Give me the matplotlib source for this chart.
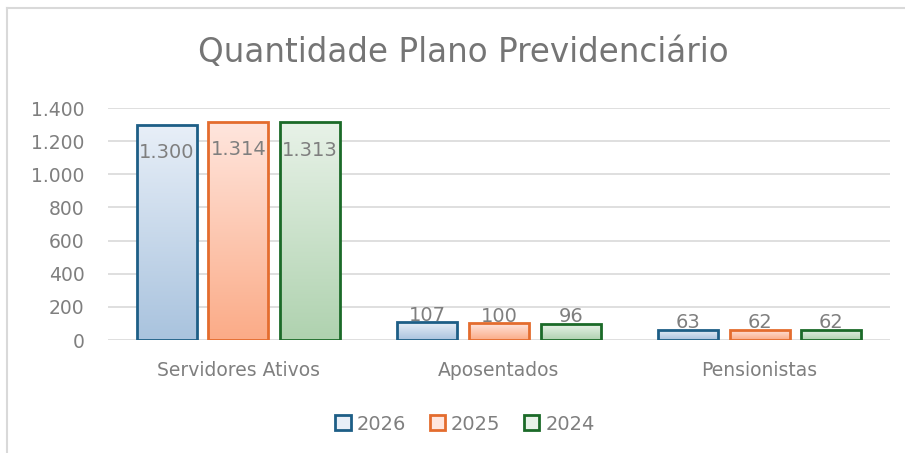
import numpy as np
import matplotlib
matplotlib.use("Agg")
from matplotlib import pyplot as plt
from matplotlib.patches import Patch
from matplotlib.lines import Line2D
from matplotlib.colors import LinearSegmentedColormap

categories = ["Servidores Ativos", "Aposentados", "Pensionistas"]
years = ["2026", "2025", "2024"]
values = {
    "2026": [1300, 107, 63],
    "2025": [1314, 100, 62],
    "2024": [1313, 96, 62],
}
yticks = [0, 200, 400, 600, 800, 1000, 1200, 1400]

# top colour, bottom colour, edge colour
styles = {
    "2026": ("#e8eff8", "#a9c3de", "#1d5e86"),
    "2025": ("#ffe6de", "#fbab87", "#e46c2e"),
    "2024": ("#e8f2e8", "#afd2af", "#1b6a28"),
}

plt.rcParams['font.family'] = ['DejaVu Sans']
txt = "#7f7f7f"


def fmt(v):
    return f"{v:,}".replace(",", ".")


fig = plt.figure(figsize=(9.05, 4.53), dpi=100)
ax = fig.add_axes([108 / 905, 113 / 453, 782 / 905, 232 / 453])

x = np.arange(len(categories))
width = 0.23
step = 0.275
grad = np.linspace(0, 1, 256).reshape(-1, 1)

for i, yr in enumerate(years):
    top, bot, edge = styles[yr]
    cmap = LinearSegmentedColormap.from_list(yr, [bot, top])
    xs = x + (i - 1) * step
    bars = ax.bar(xs, values[yr], width, facecolor="none", edgecolor=edge,
                  linewidth=2, zorder=3)
    for b, v in zip(bars, values[yr]):
        x0, w, h = b.get_x(), b.get_width(), b.get_height()
        im = ax.imshow(grad, cmap=cmap, aspect="auto", origin="lower",
                       extent=[x0, x0 + w, 0, h], zorder=2)
        im.set_clip_path(b)
        cx = x0 + w / 2
        if v > 500:
            ax.text(cx, h - 110, fmt(v), ha="center", va="top", fontsize=14,
                    color=txt, zorder=4)
        else:
            ax.text(cx, h + 10, fmt(v), ha="center", va="baseline", fontsize=14,
                    color=txt, zorder=4)

ax.set_xlim(-0.5, 2.5)
ax.set_ylim(0, 1400)
ax.set_yticks(yticks)
ax.set_yticklabels([fmt(t) for t in yticks])
ax.set_xticks(x)
ax.set_xticklabels(categories)
ax.tick_params(axis="both", length=0, labelsize=13.5, colors=txt)
ax.tick_params(axis="x", pad=15)
ax.tick_params(axis="y", pad=17)
ax.grid(axis="y", color="#d9d9d9", linewidth=1.2, zorder=0)
for s in ax.spines.values():
    s.set_visible(False)

fig.text(463 / 905, 1 - 52 / 453, "Quantidade Plano Previdenciário",
         ha="center", va="center", fontsize=23.5, color="#757575")

handles = [Patch(facecolor=styles[yr][0], edgecolor=styles[yr][2], linewidth=2,
                 label=yr) for yr in years]
fig.legend(handles=handles, loc="center", bbox_to_anchor=(465 / 905, 1 - 424 / 453),
           ncol=3, frameon=False, fontsize=14, labelcolor=txt,
           handlelength=0.8, handleheight=0.8, handletextpad=0.3, columnspacing=1.2)

# frame of the chart area (left and top edges visible)
fig.add_artist(Line2D([7 / 905, 7 / 905], [0, 1 - 8 / 453], color="#d9d9d9", lw=1.5))
fig.add_artist(Line2D([7 / 905, 1], [1 - 8 / 453, 1 - 8 / 453], color="#d9d9d9", lw=1.5))

fig.savefig("out.png", dpi=100)
